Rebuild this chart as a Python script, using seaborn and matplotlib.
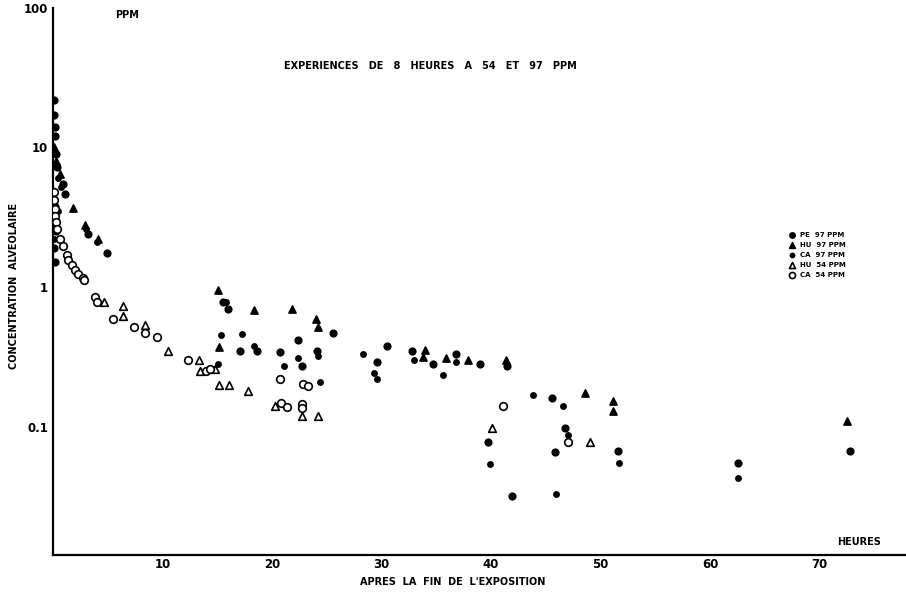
import numpy as np
import pandas as pd
import matplotlib
matplotlib.use("Agg")
import matplotlib.pyplot as plt
import seaborn as sns
from matplotlib.ticker import FixedLocator, LogLocator, NullFormatter

sns.set_style("white")
plt.rcParams.update({
    "font.family": ["DejaVu Sans"],
    "font.weight": "bold",
    "axes.linewidth": 1.6,
    "text.color": "black",
    "axes.edgecolor": "black",
    "axes.labelcolor": "black",
    "xtick.color": "black",
    "ytick.color": "black",
})

# --- data (hours after exposure, alveolar conc. ppm) ---
pe97_h = [0.05, 0.1, 0.15, 0.2, 0.3, 0.4, 0.9, 1.1, 0.15, 0.25, 0.1, 0.2,
          3.2, 4.9,
          15.5, 16.0, 17.1, 18.6, 20.7, 22.4, 22.7, 24.1, 25.6, 29.6, 30.5,
          32.8, 34.7, 36.8, 39.0, 41.5, 39.7, 41.9, 45.6, 46.8, 45.8, 51.6,
          62.6, 72.8]
pe97_c = [22, 17, 14, 12, 9.0, 7.2, 5.5, 4.6, 3.0, 2.5, 1.9, 1.5,
          2.4, 1.76,
          0.78, 0.69, 0.35, 0.35, 0.34, 0.42, 0.27, 0.35, 0.47, 0.29, 0.38,
          0.35, 0.28, 0.33, 0.28, 0.27, 0.077, 0.032, 0.16, 0.097, 0.066, 0.067,
          0.055, 0.067]

hu97_h = [0.1, 0.3, 0.6, 0.2, 1.8, 2.9, 4.1, 15.1, 15.2, 18.4, 21.8, 24.0,
          24.2, 33.8, 34.0, 35.9, 37.9, 41.4, 48.6, 51.1, 51.1, 72.5]
hu97_c = [10, 8.0, 6.5, 4.0, 3.7, 2.8, 2.2, 0.95, 0.37, 0.68, 0.69, 0.59,
          0.52, 0.315, 0.355, 0.31, 0.30, 0.30, 0.174, 0.152, 0.13, 0.11]

ca97_h = [0.2, 0.3, 0.5, 0.7, 0.5, 0.1, 3.0, 4.0, 15.1, 15.3, 15.8, 17.3,
          18.4, 21.1, 22.4, 24.4, 24.2, 28.3, 29.3, 29.6, 33.0, 35.6, 36.8,
          39.9, 43.8, 46.6, 47.0, 45.9, 51.7, 62.6]
ca97_c = [9.0, 7.5, 6.0, 5.2, 3.5, 2.2, 2.6, 2.1, 0.28, 0.45, 0.78, 0.46,
          0.38, 0.27, 0.31, 0.21, 0.32, 0.33, 0.24, 0.22, 0.30, 0.235, 0.29,
          0.054, 0.168, 0.14, 0.087, 0.033, 0.055, 0.043]

hu54_h = [4.7, 6.4, 6.4, 8.4, 10.5, 13.3, 13.4, 14.8, 15.2, 16.1, 17.8,
          20.3, 22.7, 24.2, 40.1, 49.0]
hu54_c = [0.78, 0.73, 0.62, 0.53, 0.35, 0.30, 0.25, 0.26, 0.198, 0.198, 0.18,
          0.14, 0.118, 0.118, 0.097, 0.077]

ca54_h = [0.05, 0.1, 0.15, 0.2, 0.3, 0.35, 0.6, 0.9, 1.3, 1.4, 1.7, 2.0, 2.3,
          2.7, 2.8, 3.8, 4.0, 5.5, 7.4, 8.4, 9.5, 12.3, 14.0, 14.3, 20.7,
          20.8, 21.4, 22.7, 22.7, 22.8, 23.3, 41.1, 47.0]
ca54_c = [4.8, 4.2, 3.6, 3.2, 2.9, 2.6, 2.2, 1.95, 1.7, 1.57, 1.44, 1.33, 1.24,
          1.16, 1.12, 0.85, 0.78, 0.59, 0.52, 0.47, 0.44, 0.30, 0.25, 0.26, 0.22,
          0.147, 0.137, 0.145, 0.135, 0.20, 0.195, 0.14, 0.078]

series = [
    ("PE  97 PPM", pe97_h, pe97_c, "o", "black", 22),
    ("HU  97 PPM", hu97_h, hu97_c, "^", "black", 26),
    ("CA  97 PPM", ca97_h, ca97_c, "o", "black", 14),
    ("HU  54 PPM", hu54_h, hu54_c, "^", "white", 30),
    ("CA  54 PPM", ca54_h, ca54_c, "o", "white", 30),
]

fig = plt.figure(figsize=(9.06, 5.96), dpi=100)
ax = fig.add_axes([0.0585, 0.0688, 0.9415, 0.918])

for name, h, c, mk, fc, s in series:
    df = pd.DataFrame({"heures": h, "conc": c})
    sns.scatterplot(data=df, x="heures", y="conc", marker=mk, s=s,
                    color=fc, edgecolor="black", linewidth=1.2,
                    ax=ax, label=name, zorder=3)

ax.set_yscale("log")
ax.set_xlim(0, 77.9)
ax.set_ylim(0.012, 100)

ax.yaxis.set_major_locator(FixedLocator([0.1, 1, 10, 100]))
ax.set_yticklabels(["0.1", "1", "10", "100"], fontsize=8.5, fontweight="bold")
ax.yaxis.set_minor_locator(LogLocator(base=10, subs=np.arange(2, 10)))
ax.yaxis.set_minor_formatter(NullFormatter())
ax.set_xticks([10, 20, 30, 40, 50, 60, 70])
ax.set_xticklabels(["10", "20", "30", "40", "50", "60", "70"], fontsize=8.5, fontweight="bold")
ax.tick_params(axis="y", which="major", direction="in", length=7, width=1.3)
ax.tick_params(axis="y", which="minor", direction="in", length=4, width=1.0)
ax.tick_params(axis="x", which="major", direction="in", length=4, width=1.0, pad=2)

sns.despine(ax=ax, top=True, right=True)
ax.set_xlabel("")
ax.set_ylabel("")

fig.text(0.14, 0.975, "PPM", fontsize=7, fontweight="bold", ha="center", va="center")
fig.text(0.475, 0.89, "EXPERIENCES   DE   8   HEURES   A   54   ET   97   PPM",
         fontsize=7, fontweight="bold", ha="center", va="center")
fig.text(0.016, 0.52, "CONCENTRATION  ALVEOLAIRE", rotation=90, fontsize=7,
         fontweight="bold", ha="center", va="center")
fig.text(0.50, 0.024, "APRES  LA  FIN  DE  L'EXPOSITION", fontsize=7,
         fontweight="bold", ha="center", va="center")
fig.text(0.948, 0.090, "HEURES", fontsize=7, fontweight="bold", ha="center", va="center")

leg = ax.legend(loc="upper left", bbox_to_anchor=(0.855, 0.595), frameon=False,
                fontsize=5, handletextpad=0.1, labelspacing=0.55,
                borderaxespad=0, markerscale=0.8)
for t in leg.get_texts():
    t.set_fontweight("bold")

fig.savefig("out.png", dpi=100)
